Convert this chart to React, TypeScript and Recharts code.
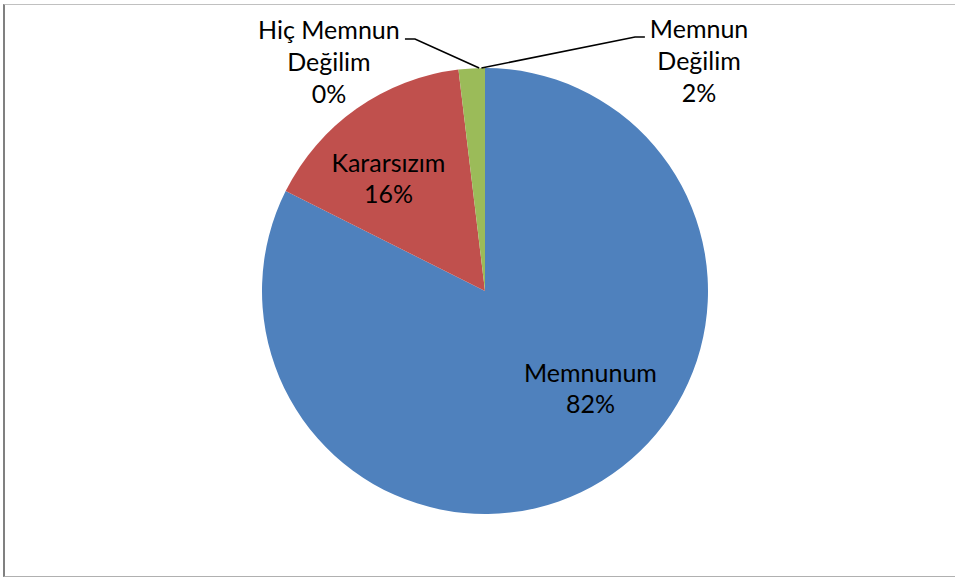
import React from "react";
import { PieChart, Pie, Cell } from "recharts";

const categories = ["Memnunum", "Kararsızım", "Memnun Değilim", "Hiç Memnun Değilim"];
const values = [82.4, 15.7, 1.9, 0];
const colors = ["#4F81BD", "#C0504D", "#9BBB59", "#8064A2"];
const labelLines: string[][] = [["Memnunum"], ["Kararsızım"], ["Memnun", "Değilim"], ["Hiç Memnun", "Değilim"]];

// label layout in units of the outer radius, relative to the pie centre
const LABEL_LAYOUT = [
  { fx: 0.473, fy: 0.407, leader: null as null | { sx: number; ex: number; y: number; da: number } },
  { fx: -0.433, fy: -0.535, leader: null as null | { sx: number; ex: number; y: number; da: number } },
  { fx: 0.96, fy: -1.133, leader: { sx: 0.717, ex: 0.673, y: -1.139, da: -2.5 } },
  { fx: -0.7, fy: -1.129, leader: { sx: -0.359, ex: -0.314, y: -1.13, da: 1.5 } },
];

const data = categories.map((name, i) => ({ name, value: values[i] }));

const FONT = "Lato, 'Open Sans', sans-serif";
const FS = 25;
const LH = 31.7;

const RADIAN = Math.PI / 180;

const renderLabel = (props: any) => {
  const { cx, cy, midAngle, outerRadius, percent, index } = props;
  const R = outerRadius;
  const lay = LABEL_LAYOUT[index];
  const x = cx + lay.fx * R;
  const y0 = cy + lay.fy * R;
  const lines = [...labelLines[index], `${Math.round(percent * 100)}%`];
  let leader = null;
  if (lay.leader) {
    const a = midAngle + lay.leader.da;
    const ax = cx + R * Math.cos(-a * RADIAN);
    const ay = cy + R * Math.sin(-a * RADIAN);
    const ly = cy + lay.leader.y * R;
    const pts = `${cx + lay.leader.sx * R},${ly} ${cx + lay.leader.ex * R},${ly} ${ax},${ay}`;
    leader = <polyline points={pts} fill="none" stroke="#000" strokeWidth={1.6} />;
  }
  return (
    <g key={`lbl-${index}`}>
      {leader}
      <text x={x} y={y0} textAnchor="middle" fill="#000" fontFamily={FONT} fontSize={FS}>
        {lines.map((l, i) => (
          <tspan key={i} x={x} y={y0 + i * LH}>
            {l}
          </tspan>
        ))}
      </text>
    </g>
  );
};

export default function App() {
  return (
    <div style={{ position: "absolute", left: 0, top: 0, width: 955, height: 579, background: "#fff" }}>
      <div
        style={{
          position: "absolute",
          left: 3,
          top: 4,
          width: 960,
          height: 573,
          borderLeft: "2px solid #808080",
          borderTop: "1px solid #c0c0c0",
          borderBottom: "1px solid #b0b0b0",
          boxSizing: "border-box",
        }}
      />
      <div style={{ position: "absolute", left: 0, top: 0 }}>
        <PieChart width={955} height={579} margin={{ top: 0, right: 0, bottom: 0, left: 0 }}>
          <Pie
            data={data}
            dataKey="value"
            nameKey="name"
            cx={485}
            cy={291}
            outerRadius={223}
            startAngle={90}
            endAngle={-270}
            stroke="none"
            labelLine={false}
            label={renderLabel}
            isAnimationActive={false}
          >
            {data.map((d, i) => (
              <Cell key={d.name} fill={colors[i]} />
            ))}
          </Pie>
        </PieChart>
      </div>
    </div>
  );
}
